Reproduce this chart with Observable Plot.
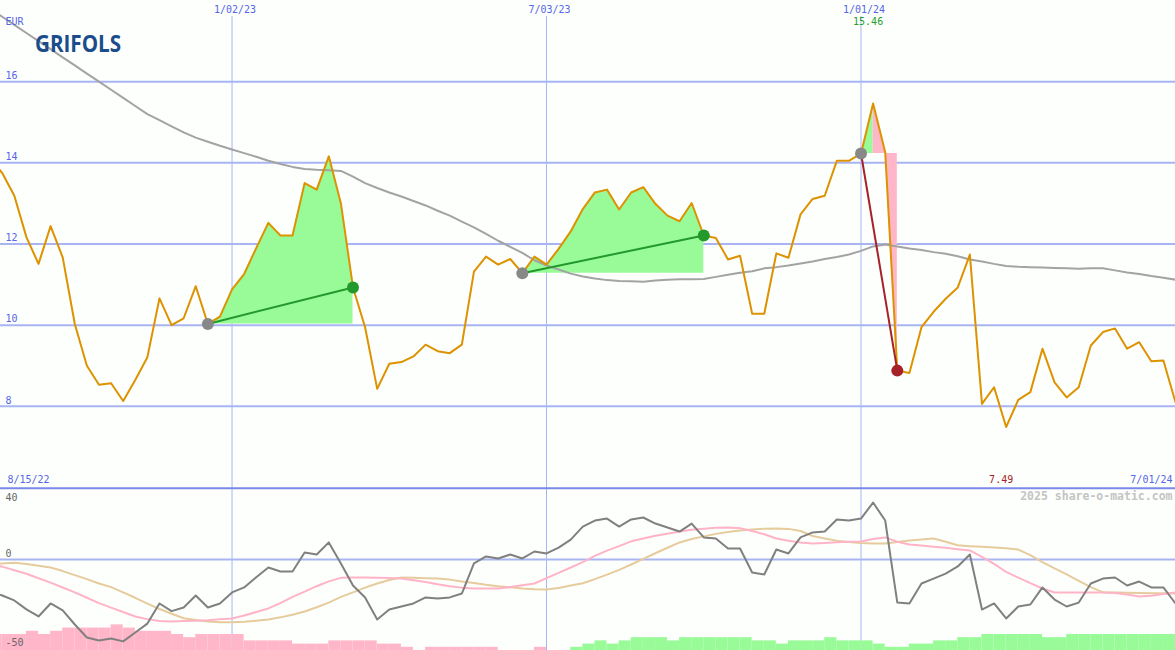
<!DOCTYPE html>
<html><head><meta charset="utf-8">
<script src="https://cdn.jsdelivr.net/npm/d3@7"></script>
<script src="https://cdn.jsdelivr.net/npm/@observablehq/plot@0.6"></script>
<style>
html,body{margin:0;padding:0;background:#fdfffd;}
#chart{position:relative;width:1175px;height:650px;overflow:hidden;background:#fdfffd;}
#chart svg{display:block;overflow:hidden;}
#logo{position:absolute;left:35px;top:31px;font-family:"Open Sans",sans-serif;font-weight:700;font-size:24px;color:#1b4c8c;transform-origin:0 0;white-space:nowrap;line-height:1;}
</style></head>
<body><div id="chart"><div id="logo">GRIFOLS</div></div>
<script>
// ---- data (weekly, starting 8/15/22) ----
const startDate = "2022-08-15";
const price = [14.1,13.75,13.19,12.17,11.51,12.44,11.67,10.03,9.0,8.53,8.57,8.13,8.65,9.21,10.66,10.0,10.17,10.96,10.03,10.21,
10.88,11.26,11.9,12.52,12.21,12.21,13.5,13.34,14.16,13.0,10.93,9.95,8.43,9.05,9.09,9.23,9.52,9.36,9.31,9.52,
11.32,11.69,11.49,11.63,11.28,11.69,11.49,11.88,12.31,12.86,13.27,13.34,12.85,13.27,13.40,12.99,12.70,12.56,13.01,12.21,
12.15,11.62,11.71,10.28,10.28,11.77,11.66,12.73,13.11,13.19,14.05,14.05,14.23,15.46,14.26,8.88,8.82,9.95,10.33,10.65,
10.93,11.74,8.06,8.47,7.49,8.16,8.35,9.42,8.59,8.22,8.47,9.50,9.83,9.92,9.42,9.58,9.11,9.13,8.10];
const movingAvg = [17.8,17.6,17.4,17.2,17.0,16.8,16.6,16.4,16.2,16.0,15.8,15.6,15.4,15.2,15.05,14.9,14.75,14.62,14.52,14.42,
14.33,14.24,14.15,14.05,13.97,13.9,13.85,13.83,13.82,13.8,13.66,13.5,13.38,13.27,13.17,13.06,12.95,12.82,12.7,12.55,
12.41,12.25,12.08,11.93,11.78,11.6,11.47,11.37,11.27,11.2,11.15,11.11,11.09,11.08,11.07,11.1,11.12,11.13,11.13,11.14,
11.19,11.24,11.29,11.33,11.4,11.43,11.47,11.52,11.57,11.63,11.68,11.74,11.83,11.94,11.99,11.94,11.89,11.85,11.8,11.76,
11.7,11.62,11.57,11.51,11.46,11.44,11.43,11.42,11.41,11.4,11.39,11.4,11.4,11.35,11.3,11.26,11.21,11.17,11.12];
const oscillator = [-18,-20.2,-23,-28,-32,-24.7,-28.6,-36.5,-43.8,-45.5,-44.4,-46,-41,-36,-24.7,-29,-27,-20.2,-27,-24.7,
-18.5,-15.7,-10,-4.5,-6.7,-6.7,3.9,2.8,9.6,-2.2,-14.6,-21.3,-33.7,-28.1,-26.4,-24.7,-21.3,-21.9,-21.3,-19.1,
-2.2,1.7,0.6,2.8,0.6,4.5,3.4,6.7,11.2,18.5,21.9,23,18.5,22.5,23.6,20.2,18,15.7,20.2,12.4,
11.8,6.2,6.2,-7.3,-8.4,5.6,3.4,12.4,15.2,15.7,22.5,21.9,23,32,21.9,-24.2,-24.7,-13.5,-10.7,-7.9,
-3.9,2.8,-28.1,-24.7,-33.1,-26.4,-25.3,-15.7,-22.5,-26.4,-24.2,-13.5,-10.7,-10.1,-14.6,-12.4,-15.7,-15.7,-24.7];
const signalFast = [-2.5,-4,-6,-8,-10.5,-13,-15.7,-18.5,-21.5,-24.5,-27,-29.5,-32,-33.5,-34.6,-34.8,-34.6,-34.4,-34.1,-33.6,
-33.1,-31.5,-29.5,-27.5,-24.5,-21,-18,-15,-12.3,-10.3,-10.1,-10.1,-10.2,-10.4,-10.7,-11.7,-12.6,-13.9,-15,-15.8,
-16.3,-16.3,-16.3,-15.5,-14.5,-13.5,-10.5,-7.5,-4.5,-1.5,2,5,7.5,10.2,11.8,13.3,14.5,15.7,16.7,17.3,
17.8,18,17.6,16,14.2,11.8,10.5,9.6,9,9.3,9.7,10,10.1,11.5,12.4,10,8.4,7.8,7.2,6.6,
5.8,5.1,1.5,-2.5,-7,-10.2,-13.3,-16.3,-18.5,-18.5,-18.5,-18.5,-18.5,-18.8,-19.6,-20.8,-20.3,-19.4,-18.5];
const signalSlow = [-2.5,-2.2,-1.8,-2.5,-3.5,-4.5,-6.5,-8.8,-11,-13.5,-15.5,-18.5,-21.5,-24.8,-27.8,-30.5,-33,-34,-34.8,-35.2,
-35.3,-35,-34.4,-33.7,-32.5,-31,-29.2,-26.8,-24.2,-21,-18.5,-15.8,-13.5,-11.5,-10.1,-10.3,-10.5,-10.7,-11.3,-12.3,
-13.2,-14.2,-15,-15.6,-16.3,-16.7,-16.9,-16,-14.6,-13.3,-11,-8.5,-5.8,-2.8,0.4,3.5,6.6,9.6,11.5,13,
14.4,15.4,16.3,16.9,17.3,17.4,17.2,16,13.2,11.8,10.6,9.8,9.3,9,9,9.8,10.7,11.3,11.8,10,
8,7.5,7.1,6.7,6.3,5.6,2.5,-1.5,-5,-8.4,-12,-15.5,-18.5,-18.6,-18.7,-18.8,-18.9,-19,-19.1];
const histogram = [-5,-5,-5,-6,-5,-6,-7,-7,-7,-7,-8,-7,-6,-6,-6,-5,-4,-5,-5,-5,
-5,-3,-3,-3,-3,-2,-2,-2,-3,-3,-3,-3,-2,-2,-1,0,-1,-1,-1,-1,
-1,-1,0,0,0,-1,0,0,1,2,3,2,3,4,4,4,3,4,4,4,
4,4,4,3,3,2,3,3,3,4,3,3,3,2,1,1,2,2,3,3,
4,4,5,5,5,5,5,4,4,5,5,5,5,5,5,5,5,5,5];
const tradeEntry = [18, 44, 72];   // week index of entry
const tradeExit  = [30, 59, 75];   // week index of exit
const gridDates = ["2023-01-02", "2023-07-03", "2024-01-01"];
const priceTicks = [16, 14, 12, 10, 8];
const oscTopTick = 40;
const oscTicks = [0, -50];
const firstLabel = "2022-08-15", lastLabel = "2024-07-01";
const xStart = "2022-08-21", xEnd = "2024-07-01";

// ---- build ----
const W = 1175;
const fmt = d3.utcFormat("%-m/%d/%y");
const t0 = new Date(startDate);
const rows = price.map((p, k) => ({
  k, date: d3.utcDay.offset(t0, 7 * k), next: d3.utcDay.offset(t0, 7 * (k + 1)),
  price: p, ma: movingAvg[k], osc: oscillator[k], fast: signalFast[k], slow: signalSlow[k], hist: histogram[k]
}));
const xDom = [new Date(xStart), new Date(xEnd)];
const gd = gridDates.map(d => new Date(d));
const gridC = "#a9b5f2", labelC = "#5566e6", darkLine = "#7b88ea";

const trades = tradeEntry.map((e, i) => {
  const x = tradeExit[i];
  return {e, x, d1: rows[e].date, p1: rows[e].price, d2: rows[x].date, p2: rows[x].price, win: rows[x].price >= rows[e].price};
});
const fillSegs = [];
for (const t of trades) {
  const seg = rows.slice(t.e, t.x + 1).map(r => ({...r, base: t.p1}));
  if (t.win) fillSegs.push({rows: seg, fill: "#98fb98"});
  else {
    const peak = d3.maxIndex(seg, r => r.price);
    fillSegs.push({rows: seg.slice(0, peak + 1), fill: "#98fb98"});
    fillSegs.push({rows: seg.slice(peak), fill: "#ffb6c8"});
  }
}
const maxRow = rows[d3.maxIndex(rows, r => r.price)];
const minRow = rows[d3.minIndex(rows, r => r.price)];

const mono = "DejaVu Sans Mono, monospace";
const topPlot = Plot.plot({
  width: W, height: 487, margin: 0,
  x: {type: "utc", domain: xDom, axis: null},
  y: {domain: [6, 18], axis: null},
  style: {background: "transparent", fontFamily: mono, overflow: "hidden"},
  marks: [
    Plot.ruleX(gd, {stroke: gridC, strokeWidth: 1, insetTop: 16}),
    Plot.ruleY(priceTicks, {stroke: gridC, strokeWidth: 2}),
    ...fillSegs.map(s => Plot.areaY(s.rows, {x: "date", y1: "base", y2: "price", fill: s.fill})),
    Plot.line(rows, {x: "date", y: "ma", stroke: "#a3a3a3", strokeWidth: 2, clip: true}),
    Plot.line(rows, {x: "date", y: "price", stroke: "#dd9200", strokeWidth: 2, clip: true}),
    Plot.link(trades, {x1: "d1", y1: "p1", x2: "d2", y2: "p2", stroke: d => d.win ? "#22992a" : "#a52228", strokeWidth: 2}),
    Plot.dot(trades, {x: "d1", y: "p1", r: 6, fill: "#888888"}),
    Plot.dot(trades, {x: "d2", y: "p2", r: 6, fill: d => d.win ? "#22992a" : "#a52228"}),
    Plot.text(priceTicks, {y: d => d, text: d => String(d), frameAnchor: "left", dx: 5, dy: -6, textAnchor: "start", fill: labelC, fontSize: 10}),
    Plot.text(["EUR"], {frameAnchor: "top-left", dx: 5, dy: 21, lineAnchor: "middle", textAnchor: "start", fill: labelC, fontSize: 10}),
    Plot.text(gd, {x: d => d, text: d => fmt(d), frameAnchor: "top", dy: 9, dx: 3, lineAnchor: "middle", fill: labelC, fontSize: 10}),
    Plot.text([maxRow], {x: "date", text: d => d.price.toFixed(2), frameAnchor: "top", dy: 21, dx: -5, lineAnchor: "middle", fill: "#22a02a", fontSize: 10}),
    Plot.text([minRow], {x: "date", text: d => d.price.toFixed(2), frameAnchor: "bottom", dy: -8, dx: -5, lineAnchor: "middle", fill: "#a52228", fontSize: 10}),
    Plot.text([firstLabel], {text: d => fmt(new Date(d)), frameAnchor: "bottom-left", dx: 7, dy: -8, lineAnchor: "middle", textAnchor: "start", fill: labelC, fontSize: 10}),
    Plot.text([lastLabel], {text: d => fmt(new Date(d)), frameAnchor: "bottom-right", dx: -3, dy: -8, lineAnchor: "middle", textAnchor: "end", fill: labelC, fontSize: 10})
  ]
});

const yMin = -51.12, histUnit = 1.8;
const botPlot = Plot.plot({
  width: W, height: 163, margin: 0,
  x: {type: "utc", domain: xDom, axis: null},
  y: {domain: [yMin, 40.45], axis: null},
  style: {background: "transparent", fontFamily: mono, overflow: "hidden"},
  marks: [
    Plot.ruleX(gd, {stroke: gridC, strokeWidth: 1}),
    Plot.ruleY([0], {stroke: gridC, strokeWidth: 2}),
    Plot.rect(rows.filter(r => r.hist !== 0), {x1: "date", x2: "next", y1: yMin, y2: r => yMin + Math.abs(r.hist) * histUnit,
      fill: r => r.hist < 0 ? "#ffb6c8" : "#98fb98", clip: true}),
    Plot.line(rows, {x: "date", y: "slow", stroke: "#e6cb9c", strokeWidth: 2, clip: true}),
    Plot.line(rows, {x: "date", y: "fast", stroke: "#ffb3c6", strokeWidth: 2, clip: true}),
    Plot.line(rows, {x: "date", y: "osc", stroke: "#808080", strokeWidth: 2, clip: true}),
    Plot.ruleY([oscTopTick], {stroke: darkLine, strokeWidth: 2}),
    Plot.text([oscTopTick], {y: d => d, text: d => String(d), frameAnchor: "left", dx: 5, dy: 9, textAnchor: "start", fill: "#666666", fontSize: 10}),
    Plot.text(oscTicks, {y: d => d, text: d => String(d), frameAnchor: "left", dx: 5, dy: -6, textAnchor: "start", fill: "#666666", fontSize: 10}),
    Plot.text(["2025 share-o-matic.com"], {frameAnchor: "top-right", dx: -3, dy: 9, lineAnchor: "middle", textAnchor: "end", fill: "#c4c4c4", fontSize: 11.5, fontWeight: "bold"})
  ]
});

const chart = document.getElementById("chart");
chart.insertBefore(topPlot, chart.firstChild);
chart.insertBefore(botPlot, topPlot.nextSibling);
const logo = document.getElementById("logo");
const w = logo.getBoundingClientRect().width;
logo.style.transform = `scaleX(${86 / w})`;
</script>
</body></html>
